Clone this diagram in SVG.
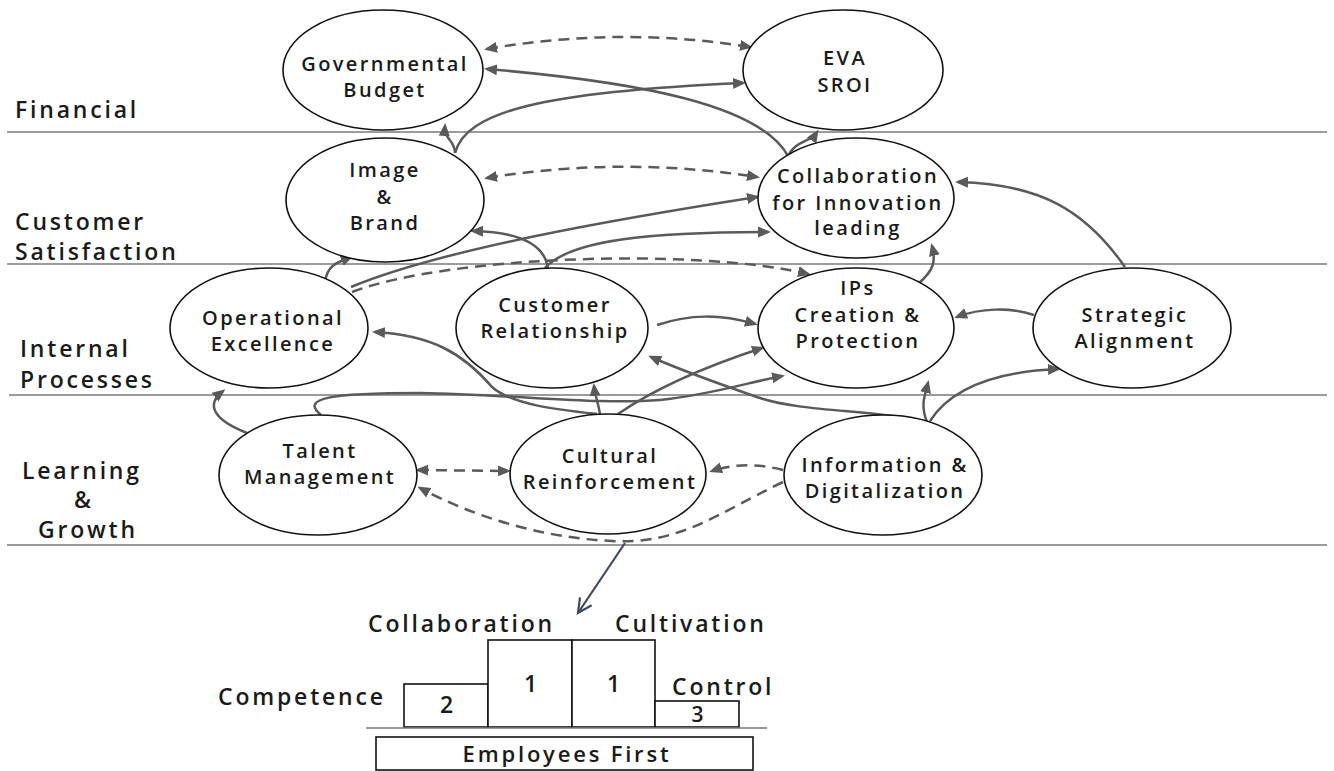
<svg xmlns="http://www.w3.org/2000/svg" width="1334" height="771" viewBox="0 0 1334 771">
<style>
.lane{stroke:#7a7a7a;stroke-width:1.6;fill:none}
.node ellipse{fill:#fff;stroke:#111;stroke-width:1.6}
.nt{font-family:"Open Sans","Noto Sans",sans-serif;font-size:20px;font-weight:600;letter-spacing:2.4px;fill:#1a1a1a;text-anchor:middle}
.lt{font-family:"Open Sans","Noto Sans",sans-serif;font-size:23px;font-weight:600;letter-spacing:2.8px;fill:#1a1a1a}
.c{fill:none;stroke:#5a5a5a;stroke-width:2.5}
.d{stroke-dasharray:11 7}
.box{fill:#fff;stroke:#111;stroke-width:1.6}
</style>
<defs>
<marker id="ah" markerUnits="userSpaceOnUse" markerWidth="14" markerHeight="12" refX="10" refY="6" orient="auto-start-reverse">
<path d="M0,0.5 L13,6 L0,11.5 z" fill="#5a5a5a"/>
</marker>
<marker id="open" markerUnits="userSpaceOnUse" markerWidth="20" markerHeight="20" refX="17" refY="10" orient="auto">
<path d="M3,3 L17,10 L3,17" fill="none" stroke="#3b4b5f" stroke-width="2.2"/>
</marker>
</defs>
<rect width="1334" height="771" fill="#fff"/>
<g id="lanes">
<line class="lane" x1="7" y1="132" x2="1327" y2="132"/>
<line class="lane" x1="7" y1="264" x2="1327" y2="264"/>
<line class="lane" x1="9" y1="395" x2="1327" y2="395"/>
<line class="lane" x1="7" y1="545" x2="1327" y2="545"/>
<text class="lt" x="15" y="118">Financial</text>
<text class="lt" x="15" y="230">Customer</text>
<text class="lt" x="15" y="260">Satisfaction</text>
<text class="lt" x="20" y="357">Internal</text>
<text class="lt" x="20" y="388">Processes</text>
<text class="lt" x="22" y="479">Learning</text>
<text class="lt" x="74" y="508">&amp;</text>
<text class="lt" x="38" y="538">Growth</text>
</g>
<g id="connectors">
<path class="c d" d="M487,49 Q620,26 750,47" marker-start="url(#ah)" marker-end="url(#ah)"/>
<path class="c" d="M788,156 C760,105 640,82 487,69" marker-end="url(#ah)"/>
<path class="c" d="M455,153 C466,112 540,92 743,83" marker-end="url(#ah)"/>
<path class="c" d="M455,153 C455,140 444,140 445,126" marker-end="url(#ah)"/>
<path class="c" d="M788,156 C796,140 810,143 817,132" marker-end="url(#ah)"/>
<path class="c d" d="M487,178 Q622,156 757,177" marker-start="url(#ah)" marker-end="url(#ah)"/>
<path class="c" d="M351,287 C440,250 610,220 757,197" marker-end="url(#ah)"/>
<path class="c" d="M545,268 C570,240 650,232 768,232" marker-end="url(#ah)"/>
<path class="c" d="M548,270 C546,245 520,232 473,231" marker-end="url(#ah)"/>
<path class="c" d="M325,282 C327,265 338,262 351,257" marker-end="url(#ah)"/>
<path class="c" d="M918,284 C934,270 936,262 932,246" marker-end="url(#ah)"/>
<path class="c" d="M1125,267 C1085,210 1040,184 958,182" marker-end="url(#ah)"/>
<path class="c d" d="M352,292 C450,255 700,248 808,274" marker-end="url(#ah)"/>
<path class="c" d="M657,325 C690,314 720,314 755,324" marker-end="url(#ah)"/>
<path class="c" d="M1034,315 C1010,307 980,308 957,317" marker-end="url(#ah)"/>
<path class="c" d="M597,414 C560,410 512,405 492,387 C462,352 430,335 375,332" marker-end="url(#ah)"/>
<path class="c" d="M600,414 C598,402 595,395 594,386" marker-end="url(#ah)"/>
<path class="c" d="M618,414 C660,385 710,365 762,348" marker-end="url(#ah)"/>
<path class="c" d="M321,415 C300,398 330,393 420,393 C520,395 600,405 660,400 C710,395 750,382 782,376" marker-end="url(#ah)"/>
<path class="c" d="M247,433 C214,420 205,405 223,391" marker-end="url(#ah)"/>
<path class="c" d="M927,422 C880,410 800,412 760,398 C720,384 690,374 651,357" marker-end="url(#ah)"/>
<path class="c" d="M927,422 C920,405 925,395 928,383" marker-end="url(#ah)"/>
<path class="c" d="M930,421 C950,390 990,372 1058,369" marker-end="url(#ah)"/>
<path class="c d" d="M418,470 L508,471" marker-start="url(#ah)" marker-end="url(#ah)"/>
<path class="c d" d="M783,470 C760,464 735,463 712,471" marker-end="url(#ah)"/>
<path class="c d" d="M783,482 C720,512 680,545 612,541 C540,538 470,515 420,488" marker-end="url(#ah)"/>
<path d="M625,543 L578,613" fill="none" stroke="#3b4b5f" stroke-width="2.2" marker-end="url(#open)"/>
</g>
<g id="governmental-budget" class="node"><ellipse cx="383" cy="70" rx="100" ry="60"/><text class="nt" x="385" y="71">Governmental</text><text class="nt" x="385" y="97">Budget</text></g>
<g id="eva-sroi" class="node"><ellipse cx="843" cy="70" rx="100" ry="60"/><text class="nt" x="845" y="65">EVA</text><text class="nt" x="845" y="92">SROI</text></g>
<g id="image-brand" class="node"><ellipse cx="385" cy="200" rx="99" ry="62"/><text class="nt" x="385" y="177">Image</text><text class="nt" x="385" y="204">&amp;</text><text class="nt" x="385" y="230">Brand</text></g>
<g id="collaboration-innovation" class="node"><ellipse cx="856" cy="198" rx="98" ry="60"/><text class="nt" x="858" y="183">Collaboration</text><text class="nt" x="858" y="210">for Innovation</text><text class="nt" x="858" y="235">leading</text></g>
<g id="operational-excellence" class="node"><ellipse cx="269" cy="328" rx="99" ry="60"/><text class="nt" x="273" y="325">Operational</text><text class="nt" x="273" y="351">Excellence</text></g>
<g id="customer-relationship" class="node"><ellipse cx="552" cy="328" rx="96" ry="60"/><text class="nt" x="555" y="312">Customer</text><text class="nt" x="555" y="338">Relationship</text></g>
<g id="ips-creation-protection" class="node"><ellipse cx="856" cy="328" rx="98" ry="60"/><text class="nt" x="858" y="295">IPs</text><text class="nt" x="858" y="322">Creation &amp;</text><text class="nt" x="858" y="348">Protection</text></g>
<g id="strategic-alignment" class="node"><ellipse cx="1132" cy="328" rx="99" ry="60"/><text class="nt" x="1135" y="322">Strategic</text><text class="nt" x="1135" y="348">Alignment</text></g>
<g id="talent-management" class="node"><ellipse cx="318" cy="475" rx="99" ry="60"/><text class="nt" x="320" y="458">Talent</text><text class="nt" x="320" y="484">Management</text></g>
<g id="cultural-reinforcement" class="node"><ellipse cx="608" cy="474" rx="98" ry="60"/><text class="nt" x="610" y="463">Cultural</text><text class="nt" x="610" y="489">Reinforcement</text></g>
<g id="information-digitalization" class="node"><ellipse cx="883" cy="475" rx="99" ry="60"/><text class="nt" x="885" y="472">Information &amp;</text><text class="nt" x="885" y="498">Digitalization</text></g>
<g id="pillars">
<text class="lt" x="368" y="632">Collaboration</text>
<text class="lt" x="615" y="632">Cultivation</text>
<text class="lt" x="218" y="705">Competence</text>
<text class="lt" x="672" y="695">Control</text>
<rect class="box" x="404" y="684" width="84" height="43"/>
<rect class="box" x="488" y="640" width="84" height="87"/>
<rect class="box" x="572" y="640" width="83" height="87"/>
<rect class="box" x="655" y="701" width="84" height="26"/>
<line x1="366" y1="728" x2="767" y2="728" stroke="#777" stroke-width="1.6"/>
<text class="lt" x="448" y="713" text-anchor="middle">2</text>
<text class="lt" x="532" y="692" text-anchor="middle">1</text>
<text class="lt" x="615" y="692" text-anchor="middle">1</text>
<text class="lt" x="699" y="722" text-anchor="middle" style="font-size:21px">3</text>
<rect class="box" x="376" y="737" width="377" height="33"/>
<text class="lt" x="567" y="762" text-anchor="middle" style="font-size:22px">Employees First</text>
</g>
</svg>
